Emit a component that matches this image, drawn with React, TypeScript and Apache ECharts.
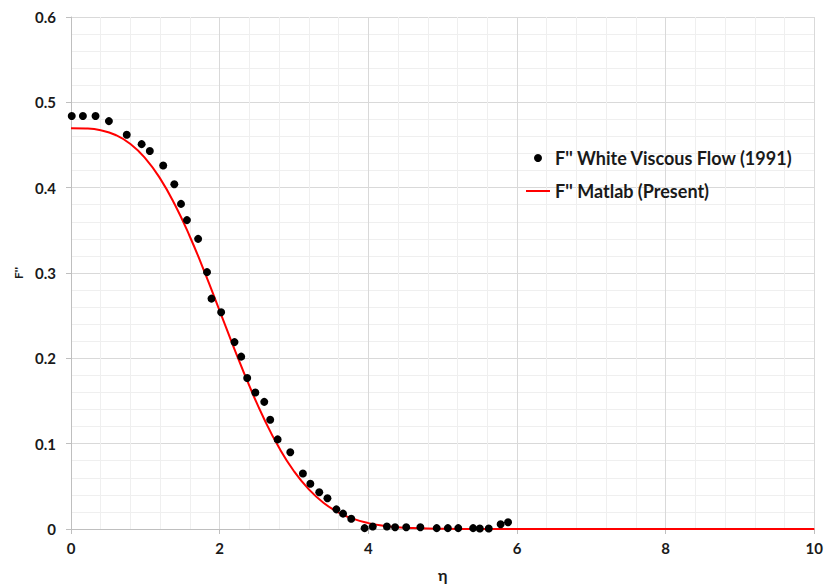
import React, { useEffect, useRef } from "react";
import * as echarts from "echarts";

// White, Viscous Flow (1991) reference points: eta, F''
const whiteEta = [0.01, 0.16, 0.33, 0.51, 0.75, 0.95, 1.06, 1.24, 1.39, 1.48, 1.56, 1.71, 1.83, 1.89, 2.02, 2.2, 2.29, 2.37, 2.48, 2.6, 2.68, 2.78, 2.95, 3.12, 3.22, 3.34, 3.45, 3.57, 3.66, 3.77, 3.95, 4.06, 4.25, 4.36, 4.51, 4.7, 4.92, 5.07, 5.21, 5.41, 5.5, 5.62, 5.78, 5.88];
const whiteF = [0.484, 0.484, 0.484, 0.478, 0.462, 0.451, 0.443, 0.426, 0.404, 0.381, 0.362, 0.34, 0.301, 0.27, 0.254, 0.219, 0.202, 0.177, 0.16, 0.149, 0.128, 0.105, 0.09, 0.065, 0.053, 0.043, 0.036, 0.023, 0.018, 0.012, 0.001, 0.003, 0.003, 0.002, 0.002, 0.002, 0.001, 0.001, 0.001, 0.001, 0.0005, 0.0005, 0.0055, 0.008];

// Matlab (present) curve: eta, F''
const matlabEta = [0, 0.2, 0.4, 0.6, 0.8, 1.0, 1.2, 1.4, 1.6, 1.8, 2.0, 2.2, 2.4, 2.6, 2.8, 3.0, 3.2, 3.4, 3.6, 3.8, 4.0, 4.2, 4.4, 4.6, 4.8, 5.0, 5.2, 5.4, 5.6, 6, 7, 8, 9, 10];
const matlabF = [0.4696, 0.4693, 0.4673, 0.4617, 0.4512, 0.4344, 0.4106, 0.3797, 0.3425, 0.3005, 0.2557, 0.2106, 0.1676, 0.1286, 0.0951, 0.0677, 0.0464, 0.0305, 0.0193, 0.0118, 0.0069, 0.0039, 0.0021, 0.0011, 0.0005, 0.0003, 0.0001, 0.0001, 0, 0, 0, 0, 0, 0];

const xTicks = [0, 2, 4, 6, 8, 10];
const yTicks = [0, 0.1, 0.2, 0.3, 0.4, 0.5, 0.6];

const FONT = "Lato";

export default function App() {
  const ref = useRef<HTMLDivElement>(null);
  useEffect(() => {
    if (!ref.current) return;
    const chart = echarts.init(ref.current, undefined, { renderer: "svg" });
    const labelStyle = { color: "#1a1a1a", fontWeight: "bold" as const, fontSize: 15, fontFamily: FONT };
    chart.setOption({
      animation: false,
      backgroundColor: "#ffffff",
      grid: { left: 71, top: 17, width: 748, height: 514, containLabel: false },
      legend: {
        orient: "vertical",
        left: 521,
        top: 144,
        itemWidth: 24,
        itemHeight: 8,
        itemGap: 15,
        textStyle: { ...labelStyle, fontSize: 18 },
        data: [
          { name: "F'' White Viscous Flow (1991)", icon: "circle" },
          { name: "F'' Matlab (Present)", icon: "path://M0,0h24v2h-24z" },
        ],
      },
      xAxis: {
        type: "value",
        min: xTicks[0],
        max: xTicks[xTicks.length - 1],
        interval: 2,
        name: "η",
        nameLocation: "middle",
        nameGap: 37,
        nameTextStyle: { ...labelStyle, fontSize: 16 },
        axisLine: { show: true, lineStyle: { color: "#bfbfbf", width: 1 } },
        axisTick: { show: true, length: 5, lineStyle: { color: "#bfbfbf" } },
        axisLabel: { ...labelStyle, margin: 11 },
        splitLine: { show: true, lineStyle: { color: "#d9d9d9", width: 1 } },
        minorTick: { show: false, splitNumber: 5 },
        minorSplitLine: { show: true, lineStyle: { color: "#efefef", width: 1 } },
      },
      yAxis: {
        type: "value",
        min: yTicks[0],
        max: yTicks[yTicks.length - 1],
        interval: 0.1,
        name: "F''",
        nameLocation: "middle",
        nameGap: 24,
        nameRotate: 90,
        nameTextStyle: { ...labelStyle, fontSize: 12 },
        axisLine: { show: true, lineStyle: { color: "#bfbfbf", width: 1 } },
        axisTick: { show: true, length: 5, lineStyle: { color: "#bfbfbf" } },
        axisLabel: { ...labelStyle, margin: 15, formatter: (v: number) => String(Math.round(v * 10) / 10) },
        splitLine: { show: true, lineStyle: { color: "#d9d9d9", width: 1 } },
        minorTick: { show: false, splitNumber: 5 },
        minorSplitLine: { show: true, lineStyle: { color: "#efefef", width: 1 } },
      },
      series: [
        {
          name: "F'' Matlab (Present)",
          type: "line",
          data: matlabEta.map((x, i) => [x, matlabF[i]]),
          smooth: true,
          showSymbol: false,
          symbol: "none",
          lineStyle: { color: "#ff0000", width: 2 },
          itemStyle: { color: "#ff0000" },
          z: 2,
        },
        {
          name: "F'' White Viscous Flow (1991)",
          type: "scatter",
          data: whiteEta.map((x, i) => [x, whiteF[i]]),
          symbol: "circle",
          symbolSize: 8,
          itemStyle: { color: "#000000", opacity: 1 },
          z: 3,
        },
      ],
    });
    return () => chart.dispose();
  }, []);
  return (
    <div
      ref={ref}
      style={{ position: "absolute", left: 0, top: 0, width: 826, height: 587 }}
    />
  );
}
